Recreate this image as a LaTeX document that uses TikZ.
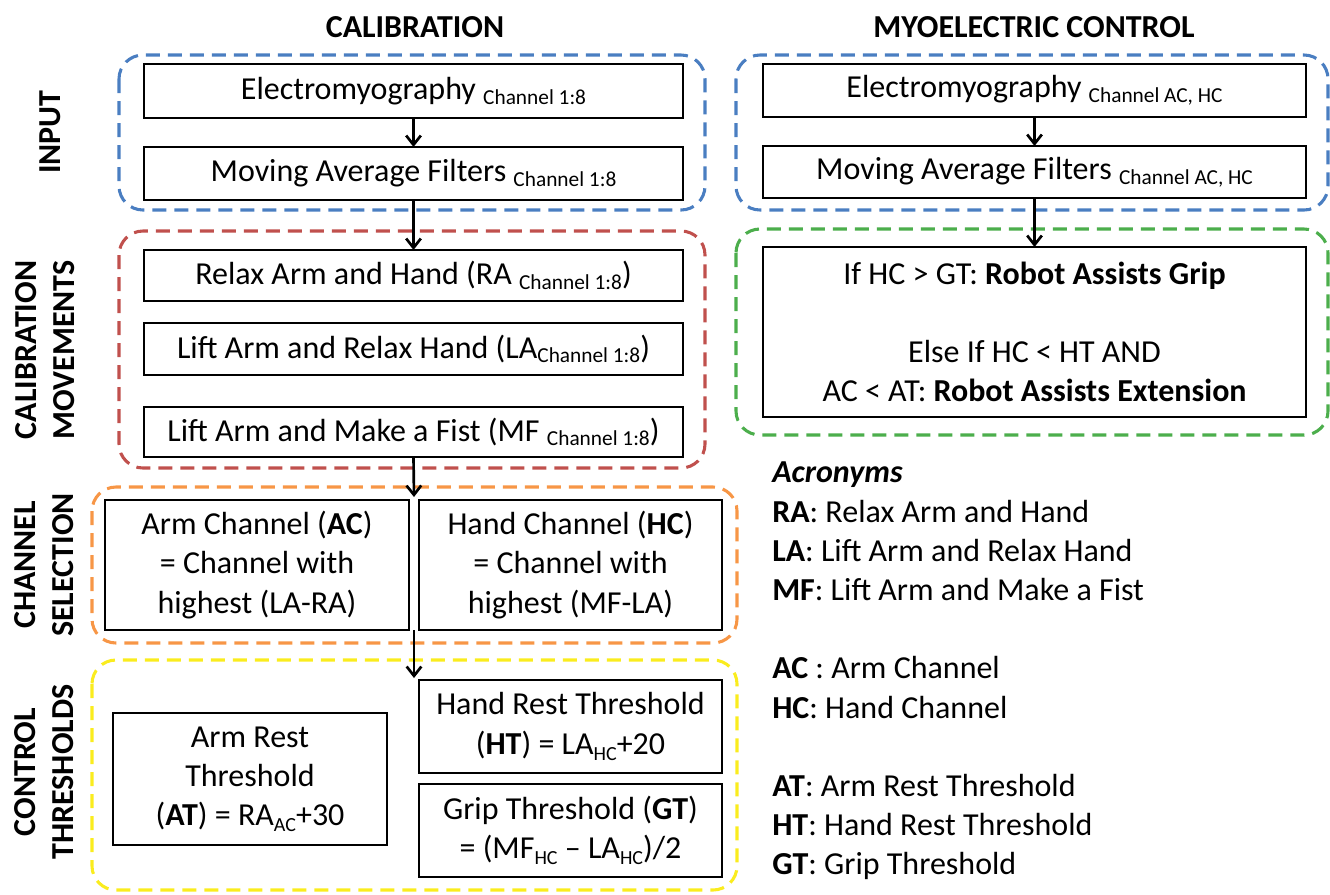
\documentclass[tikz,border=0pt]{standalone}
\usepackage{fontspec}
\setmainfont{Carlito}
\usetikzlibrary{arrows.meta}

\definecolor{grpblue}{RGB}{74,126,193}
\definecolor{grpred}{RGB}{192,80,77}
\definecolor{grporange}{RGB}{247,150,70}
\definecolor{grpgreen}{RGB}{76,174,76}
\definecolor{grpyellow}{RGB}{250,236,30}

% small lowered channel label
\newcommand{\chsub}[1]{{\fontsize{16}{16}\selectfont\raisebox{-3.5pt}{#1}}}
% subscript of a symbol
\newcommand{\lo}[1]{{\fontsize{15}{15}\selectfont\raisebox{-4.5pt}{#1}}}

% box given by its corners (in px) and its text
\newcommand{\flowbox}[6]{%
  \node[fbox, minimum width={(#4-#2)*0.75pt}, minimum height={(#5-#3)*0.75pt}]
    (#1) at ({(#2+#4)/2},{(#3+#5)/2}) {#6};}

\begin{document}
\begin{tikzpicture}[x=0.75pt,y=-0.75pt,
  fbox/.style={draw=black, line width=1.3pt, inner sep=0pt, outer sep=0pt,
    align=center, font=\fontsize{24}{29.4}\selectfont},
  grp/.style={line width=2.3pt, dash pattern=on 10.5pt off 6pt, rounded corners=18pt},
  flow/.style={line width=2pt, -{Straight Barb[length=7pt,width=11pt,line width=2pt]}},
  title/.style={font=\bfseries\fontsize{24}{28}\selectfont},
  vlab/.style={rotate=90, align=center, font=\bfseries\fontsize{24}{28.5}\selectfont},
  legend/.style={align=left, anchor=west, inner sep=0pt, font=\fontsize{24}{29.4}\selectfont}]

\useasboundingbox (0,0) rectangle (1330,894);

% column titles
\node[title] (tcal) at (415,27) {CALIBRATION};
\node[title] (tmyo) at (1034,27) {MYOELECTRIC CONTROL};

% row labels
\node[vlab] (lin) at (50,132) {INPUT};
\node[vlab] (lcal) at (45,350) {CALIBRATION\\MOVEMENTS};
\node[vlab] (lch) at (44,565) {CHANNEL\\SELECTION};
\node[vlab] (lct) at (44,772) {CONTROL\\THRESHOLDS};

% group frames
\draw[grp, grpblue] (119,55) rectangle (705,210);
\draw[grp, grpred] (119,231) rectangle (705,468);
\draw[grp, grporange] (92,487) rectangle (737,643);
\draw[grp, grpyellow] (92,660) rectangle (737,890);
\draw[grp, grpblue] (736,55) rectangle (1328,210);
\draw[grp, grpgreen] (736,229) rectangle (1328,435);

% calibration column
\flowbox{emgL}{144}{64}{683}{118}{Electromyography \chsub{Channel 1:8}}
\flowbox{mafL}{144}{147}{683}{200}{Moving Average Filters \chsub{Channel 1:8}}
\flowbox{relax}{144}{250}{683}{301}{Relax Arm and Hand (RA \chsub{Channel 1:8})}
\flowbox{lift}{144}{323}{683}{375}{Lift Arm and Relax Hand (LA\chsub{Channel 1:8})}
\flowbox{fist}{144}{407}{683}{457}{Lift Arm and Make a Fist (MF \chsub{Channel 1:8})}
\flowbox{ac}{105}{500}{409}{630}{Arm Channel (\textbf{AC})\\= Channel with\\highest (LA-RA)}
\flowbox{hc}{419}{500}{722}{630}{Hand Channel (\textbf{HC})\\= Channel with\\highest (MF-LA)}
\flowbox{at}{113}{713}{387}{845}{Arm Rest\\Threshold\\(\textbf{AT}) = RA\lo{AC}+30}
\flowbox{ht}{419}{680}{722}{773}{Hand Rest Threshold\\(\textbf{HT}) = LA\lo{HC}+20}
\flowbox{gt}{419}{784}{722}{877}{Grip Threshold (\textbf{GT})\\= (MF\lo{HC} -- LA\lo{HC})/2}

% myoelectric control column
\flowbox{emgR}{763}{64}{1306}{117}{Electromyography \chsub{Channel AC, HC}}
\flowbox{mafR}{763}{146}{1306}{198}{Moving Average Filters \chsub{Channel AC, HC}}
\flowbox{rule}{763}{247}{1306}{417}{If HC > GT: \textbf{Robot Assists Grip}\\~\\Else If HC < HT AND\\AC < AT: \textbf{Robot Assists Extension}}

% connector ends between the side-by-side boxes
\coordinate (selIn) at (414,497);
\coordinate (selOut) at (414,630);
\coordinate (thrIn) at (414,678);

% connectors
\draw[flow] (emgL.south) -- (mafL.north);
\draw[flow] (mafL.south) -- (relax.north);
\draw[flow] (fist.south) -- (selIn);
\draw[flow] (selOut) -- (thrIn);
\draw[flow] (emgR.south) -- (mafR.north);
\draw[flow] (mafR.south) -- (rule.north);

% acronym list
\node[legend] (acro) at (772,671) {\textbf{\textit{Acronyms}}\\
\textbf{RA}: Relax Arm and Hand\\
\textbf{LA}: Lift Arm and Relax Hand\\
\textbf{MF}: Lift Arm and Make a Fist\\
~\\
\textbf{AC} : Arm Channel\\
\textbf{HC}: Hand Channel\\
~\\
\textbf{AT}: Arm Rest Threshold\\
\textbf{HT}: Hand Rest Threshold\\
\textbf{GT}: Grip Threshold};

\end{tikzpicture}
\end{document}
